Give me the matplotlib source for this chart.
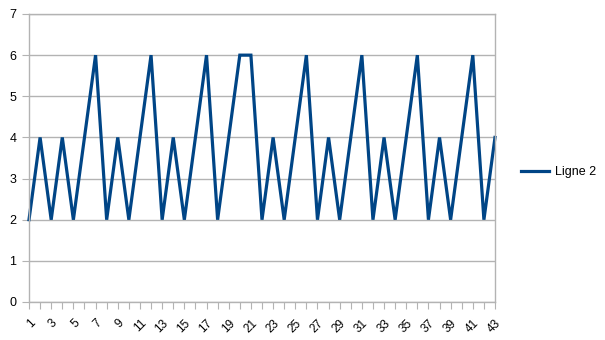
import numpy as np
import matplotlib.pyplot as plt

plt.rcParams['font.family'] = ['Liberation Sans', 'DejaVu Sans']

# data
categories = list(range(1, 44))
ligne2 = [2, 4, 2, 4, 2, 4, 6, 2, 4, 2, 4, 6, 2, 4, 2, 4, 6, 2, 4, 6, 6,
          2, 4, 2, 4, 6, 2, 4, 2, 4, 6, 2, 4, 2, 4, 6, 2, 4, 2, 4, 6, 2, 4]
tick_labels = [str(c) for c in categories]

fig = plt.figure(figsize=(6.05, 3.4), dpi=100)
ax = fig.add_axes([29/605, 38/340, 466/605, 288/340])

line, = ax.plot(categories, ligne2, color='#004586', lw=2.3, label='Ligne 2',
                solid_joinstyle='miter', clip_on=False)

ax.set_xlim(1, 43)
ax.set_ylim(0, 7)
ax.set_yticks(range(0, 8))
ax.grid(axis='y', color='#b3b3b3', lw=1)
ax.set_axisbelow(True)

ax.set_xticks(categories)
ax.set_xticklabels([l if i % 2 == 0 else '' for i, l in enumerate(tick_labels)],
                   rotation=45, ha='right', va='top', rotation_mode='anchor')
ax.tick_params(axis='x', length=5, color='#b3b3b3', labelsize=8.5, pad=6)
ax.tick_params(axis='y', length=5, color='#b3b3b3', labelsize=9, pad=4)

for s in ax.spines.values():
    s.set_color('#b3b3b3')
    s.set_linewidth(1)

fig.legend(handles=[line], loc='center left', bbox_to_anchor=(510/605, 1 - 172/340),
           frameon=False, fontsize=9, handlelength=2.2, handletextpad=0.5)

fig.savefig('out.png', dpi=100)
